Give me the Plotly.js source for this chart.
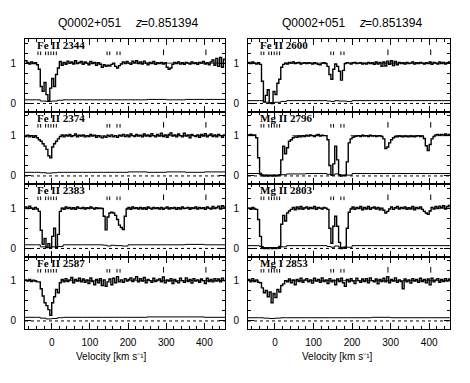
<!DOCTYPE html>
<html><head><meta charset="utf-8">
<script src="https://cdn.plot.ly/plotly-3.0.1.min.js"></script>
<style>html,body{margin:0;padding:0;background:#fff}#chart{width:470px;height:383px}</style>
</head><body><div id="chart"></div>
<script>
// ---------- DATA ----------
const quasar = "Q0002+051";
const redshiftSymbol = "z";
const redshiftValue = "=0.851394";
const xAxisTitle = "Velocity [km s⁻¹]";
const transitions = ["Fe II 2344","Fe II 2374","Fe II 2383","Fe II 2587","Fe II 2600","Mg II 2796","Mg II 2803","Mg I 2853"];

const velocity = [-70,-65,-60,-55,-50,-45,-40,-35,-30,-25,-20,-15,-10,-5,0,5,10,15,20,25,30,35,40,45,50,55,60,65,70,75,80,85,90,95,100,105,110,115,120,125,130,135,140,145,150,155,160,165,170,175,180,185,190,195,200,205,210,215,220,225,230,235,240,245,250,255,260,265,270,275,280,285,290,295,300,305,310,315,320,325,330,335,340,345,350,355,360,365,370,375,380,385,390,395,400,405,410,415,420,425,430,435,440,445,450,455];

const fluxFe2344 = [1.06,1.02,0.98,1.03,0.99,1.01,0.96,0.85,0.42,0.30, 0.52,0.22,0.07,0.38,0.62,0.42,0.72,0.88,1.04,0.95, 1.02,0.97,1.05,1.00,1.03,0.98,1.06,0.99,1.02,1.04, 0.97,1.03,1.00,0.96,1.04,0.99,1.02,0.95,1.01,0.97, 0.90,0.96,0.92,0.95,0.93,0.97,1.00,0.92,0.88,0.94, 0.98,1.03,0.99,1.04,1.00,0.97,1.05,1.01,1.06,0.99, 1.03,0.98,1.05,1.00,0.96,1.02,0.99,1.04,0.97,1.01, 0.99,1.02,0.98,1.01,0.90,0.85,0.88,0.97,1.02,0.99, 1.03,0.98,1.01,0.97,1.02,1.00,0.98,1.03,0.99,1.01, 0.97,1.02,1.00,1.04,0.98,1.01,0.96,1.03,1.08,0.95, 1.12,0.92,1.14,0.90,1.10,1.05];
const fluxFe2374 = [0.98,1.01,0.97,1.00,0.96,0.99,0.95,0.90,0.86,0.80, 0.74,0.66,0.50,0.45,0.72,0.80,0.86,0.92,0.98,1.02, 0.97,1.02,0.99,1.03,0.98,1.00,1.04,0.97,1.01,0.99, 1.02,0.97,1.00,0.98,1.03,0.99,1.01,0.96,1.00,0.97, 0.95,0.99,0.96,1.01,0.98,1.02,0.97,1.00,0.96,1.01, 0.99,1.03,0.98,1.02,0.97,1.04,1.00,0.98,1.03,0.99, 1.01,0.97,1.04,0.99,1.02,0.98,1.05,1.00,0.97,1.03, 0.99,1.06,0.98,1.02,0.96,1.03,1.07,0.99,1.02,0.97, 1.04,1.00,0.97,1.06,0.99,1.02,0.95,1.03,1.00,0.98, 1.02,0.96,1.03,0.99,1.05,0.97,1.01,1.04,0.98,1.02, 0.97,1.03,1.00,0.96,1.02,0.99];
const fluxFe2383 = [1.03,0.99,1.05,1.00,0.97,1.02,0.98,0.92,0.45,0.10, 0.25,0.02,0.12,0.02,0.30,0.50,0.03,0.35,0.92,1.00, 0.97,1.03,0.99,1.02,0.98,1.01,0.97,1.03,1.00,0.99, 1.02,0.98,1.01,0.99,1.03,1.00,0.98,1.01,0.99,1.00, 0.99,0.80,0.46,0.78,0.88,0.90,0.88,0.82,0.72,0.58, 0.52,0.47,0.80,0.98,1.02,0.97,1.03,0.99,1.01,0.98, 1.02,0.98,1.01,0.97,1.03,1.00,0.98,1.02,0.99,1.01, 0.98,1.02,0.97,1.00,1.03,0.98,1.01,0.99,1.02,0.97, 1.01,0.98,1.03,0.99,1.00,1.02,0.97,1.01,0.99,1.03, 0.98,1.02,0.99,1.01,0.97,1.03,1.00,0.98,1.04,0.99, 1.02,1.05,0.98,1.06,1.03,1.05];
const fluxFe2587 = [1.02,0.99,1.03,0.98,1.01,0.99,0.97,0.97,0.80,0.62, 0.45,0.38,0.28,0.14,0.45,0.60,0.78,0.70,0.95,1.03, 0.97,1.05,0.98,1.02,1.08,0.95,1.03,0.99,1.06,0.97, 1.04,0.96,1.02,0.93,1.07,0.98,0.90,1.03,0.95,1.05, 0.88,1.02,0.86,0.97,1.04,0.90,1.06,0.95,1.10,0.97, 1.02,0.96,1.05,0.99,1.03,1.07,0.98,1.04,1.10,0.97, 1.05,0.99,1.08,0.95,1.03,1.00,0.96,1.06,0.98,1.02, 1.04,0.97,1.09,0.95,1.02,0.99,1.05,0.93,1.03,0.98, 0.95,1.06,1.00,0.96,1.07,0.98,1.03,0.94,1.05,0.99, 1.02,0.96,1.04,1.00,0.93,1.06,0.98,1.03,0.97,1.05, 0.99,1.04,0.97,1.06,1.00,1.03];
const fluxFe2600 = [1.02,0.99,1.03,1.00,0.98,1.01,0.97,0.55,0.04,0.20, 0.34,0.01,0.00,0.30,0.22,0.50,0.60,0.90,0.97,1.00, 0.98,1.02,1.00,1.03,0.99,1.01,1.02,0.98,1.00,1.01, 0.99,1.01,1.00,0.98,1.01,0.99,0.97,0.96,1.00,1.01, 0.99,0.92,0.72,0.60,0.85,0.98,0.92,0.80,0.58,0.82, 0.99,1.01,1.00,0.98,1.01,1.02,0.99,1.00,1.01,0.98, 1.00,0.98,1.02,0.99,1.01,0.97,1.03,0.98,1.02,0.92, 1.03,0.93,1.05,0.97,1.06,0.94,1.04,0.96,1.02,0.99, 1.01,0.98,1.02,0.99,1.00,1.03,0.98,1.01,0.99,1.02, 1.00,0.98,1.01,0.99,1.03,0.97,1.02,1.00,0.98,1.03, 0.99,1.02,0.98,1.01,1.03,1.00];
const fluxMg2796 = [1.02,1.03,1.01,1.02,0.95,0.45,0.06,0.01,0.00,0.02, 0.00,0.01,0.00,0.02,0.00,0.01,0.03,0.40,0.74,0.55, 0.70,0.86,0.90,0.95,0.97,0.96,0.99,0.97,1.00,0.98, 1.01,0.99,1.02,1.00,0.98,1.01,1.03,0.99,1.01,1.00, 1.00,0.90,0.26,0.02,0.30,0.74,0.40,0.03,0.00,0.01, 0.02,0.35,0.82,0.92,0.96,0.98,0.99,1.00,0.98,1.01, 0.99,1.00,0.98,1.01,0.99,1.00,0.98,0.99,1.00,0.98, 0.92,0.68,0.72,0.82,0.90,0.95,0.98,0.97,0.99,0.98, 0.97,0.99,0.98,0.97,0.99,0.98,0.97,0.99,1.00,0.98, 0.99,0.93,0.75,0.63,0.78,0.92,0.98,1.02,1.03,1.01, 1.03,1.02,1.04,1.01,1.03,1.02];
const fluxMg2803 = [1.00,0.97,1.02,0.98,0.97,0.72,0.30,0.02,0.00,0.01, 0.00,0.02,0.00,0.01,0.00,0.02,0.05,0.60,0.82,0.68, 0.88,0.93,0.97,1.02,0.96,1.03,0.98,1.04,0.97,1.01, 1.03,0.98,1.02,0.99,1.04,0.97,1.02,1.00,0.98,1.02, 1.00,0.97,0.50,0.13,0.55,0.80,0.55,0.15,0.00,0.01, 0.03,0.50,0.90,0.98,1.03,0.97,1.02,0.99,1.04,0.96, 1.02,0.98,1.04,0.97,1.01,1.03,0.98,1.02,0.96,1.00, 0.95,0.88,0.92,0.98,1.03,0.97,1.01,1.04,0.98,1.02, 0.99,1.03,0.97,1.01,0.98,1.04,0.96,1.02,0.99,1.03, 0.97,0.92,0.88,0.85,0.93,1.02,0.98,1.04,0.99,1.05, 1.01,1.06,0.98,1.04,1.07,1.02];
const fluxMg2853 = [1.03,0.97,1.05,0.98,1.02,0.96,0.95,0.82,0.70,0.76, 0.60,0.72,0.45,0.68,0.58,0.78,0.72,0.88,0.92,1.00, 0.97,1.04,0.95,1.02,0.90,1.03,0.98,1.06,0.96,1.02, 1.05,0.97,1.02,0.94,1.06,0.99,1.03,0.96,1.07,0.98, 1.02,0.93,1.05,0.97,1.01,0.90,1.04,0.98,1.06,0.95, 0.86,1.03,0.97,1.05,0.99,0.93,1.06,1.00,0.96,1.04, 0.98,1.05,0.95,1.07,1.00,0.97,1.04,0.92,1.03,0.98, 1.06,0.97,1.10,0.95,1.03,0.99,1.07,0.96,1.02,0.98, 0.80,1.04,0.97,1.02,0.94,1.05,0.99,1.03,0.96,1.06, 0.98,1.03,0.95,1.04,0.90,1.06,0.97,1.02,1.05,0.96, 1.03,0.98,1.05,0.99,1.04,1.01];

const errVelocity = [-70,-40,-30,-15,0,15,30,80,135,145,155,165,185,200,250,300,350,400,455];
const errFe2344 = [0.09,0.09,0.06,0.05,0.06,0.08,0.09,0.09,0.09,0.09,0.09,0.09,0.09,0.09,0.10,0.09,0.10,0.10,0.10];
const errFe2374 = [0.09,0.09,0.08,0.07,0.08,0.09,0.09,0.09,0.09,0.09,0.09,0.09,0.09,0.10,0.09,0.10,0.09,0.10,0.10];
const errFe2383 = [0.09,0.09,0.04,0.03,0.04,0.05,0.09,0.09,0.08,0.06,0.08,0.07,0.06,0.09,0.09,0.09,0.10,0.09,0.10];
const errFe2587 = [0.09,0.09,0.07,0.05,0.06,0.08,0.09,0.09,0.09,0.09,0.09,0.09,0.09,0.09,0.10,0.10,0.10,0.09,0.10];
const errFe2600 = [0.07,0.07,0.03,0.02,0.03,0.05,0.07,0.07,0.06,0.05,0.07,0.06,0.05,0.07,0.07,0.07,0.07,0.07,0.07];
const errMg2796 = [0.06,0.03,0.02,0.02,0.02,0.03,0.05,0.06,0.04,0.02,0.05,0.02,0.02,0.06,0.06,0.06,0.06,0.06,0.06];
const errMg2803 = [0.07,0.05,0.02,0.02,0.02,0.04,0.07,0.07,0.05,0.03,0.06,0.03,0.03,0.07,0.07,0.07,0.07,0.07,0.07];
const errMg2853 = [0.08,0.08,0.07,0.06,0.07,0.08,0.08,0.08,0.08,0.08,0.08,0.08,0.08,0.08,0.09,0.08,0.08,0.08,0.08];

// velocities of the fitted cloud components (tick marks)
const componentVelocities = [-36,-29,-16,-9,-2,5,12,145,152,171,179];
const strongComponentVelocities = [293,404];
// unabsorbed stretches where the model sits on the continuum
const continuumFe = [[-70,-38],[24,132],[195,455]];
const continuumMg = [[-70,-50],[45,135],[196,278],[312,383],[412,455]];
const continuumMgI = [[-70,-42],[25,455]];

const fluxes = [fluxFe2344,fluxFe2374,fluxFe2383,fluxFe2587,fluxFe2600,fluxMg2796,fluxMg2803,fluxMg2853];
const errors = [errFe2344,errFe2374,errFe2383,errFe2587,errFe2600,errMg2796,errMg2803,errMg2853];
const continua = [continuumFe,continuumFe,continuumFe,continuumFe,continuumFe,continuumMg,continuumMg,continuumMgI];

// ---------- LAYOUT ----------
const W = 470, H = 383;
const rowEdges = [39, 111.5, 184, 256.5, 329];
const colEdges = [[25, 225], [248, 450]];
const xRange = [-70, 454];
const yRange = [-0.2, 1.6];
const sans = 'Liberation Sans, Arial, sans-serif';

const traces = [];
const layout = {
  width: W, height: H, margin: {l:0, r:0, t:0, b:0},
  paper_bgcolor: '#fff', plot_bgcolor: '#fff', showlegend: false,
  font: {family: sans, color: '#000', size: 10},
  annotations: []
};

transitions.forEach((name, k) => {
  const col = Math.floor(k / 4), row = k % 4, n = k + 1;
  const xs = 'x' + n, ys = 'y' + n;
  const xk = n === 1 ? 'xaxis' : 'xaxis' + n;
  const yk = n === 1 ? 'yaxis' : 'yaxis' + n;
  layout[xk] = {
    domain: [colEdges[col][0] / W, colEdges[col][1] / W], range: xRange, anchor: ys,
    showgrid: false, zeroline: false, showline: true, linecolor: '#000', linewidth: 1,
    mirror: 'allticks', ticks: 'inside', ticklen: 6, tickwidth: 1, tickcolor: '#000',
    tick0: 0, dtick: 100,
    minor: {dtick: 20, ticks: 'inside', ticklen: 3, tickwidth: 1, tickcolor: '#000', showgrid: false},
    showticklabels: row === 3, ticklabelstandoff: 4,
    tickfont: {family: sans, size: 10, color: '#000'},
    fixedrange: true
  };
  layout[yk] = {
    domain: [1 - rowEdges[row + 1] / H, 1 - rowEdges[row] / H], range: yRange, anchor: xs,
    showgrid: false, zeroline: false, showline: true, linecolor: '#000', linewidth: 1,
    mirror: 'allticks', ticks: 'inside', ticklen: 6, tickwidth: 1, tickcolor: '#000',
    tick0: 0, dtick: 1,
    minor: {dtick: 0.25, ticks: 'inside', ticklen: 3, tickwidth: 1, tickcolor: '#000', showgrid: false},
    showticklabels: true, ticklabelstandoff: 6,
    tickfont: {family: sans, size: 10, color: '#000'},
    fixedrange: true
  };

  // zero level (dotted)
  traces.push({x: [xRange[0], xRange[1]], y: [0, 0], xaxis: xs, yaxis: ys, mode: 'lines',
    line: {color: '#000', width: 1, dash: 'dot'}, hoverinfo: 'skip'});
  // continuum model
  const cx = [], cy = [];
  continua[k].forEach(seg => { cx.push(seg[0], seg[1], null); cy.push(1, 1, null); });
  traces.push({x: cx, y: cy, xaxis: xs, yaxis: ys, mode: 'lines',
    line: {color: '#000', width: 0.8}, hoverinfo: 'skip'});
  // error spectrum
  traces.push({x: errVelocity, y: errors[k], xaxis: xs, yaxis: ys, mode: 'lines',
    line: {color: '#000', width: 1, shape: 'hv'}, hoverinfo: 'skip'});
  // flux
  traces.push({x: velocity, y: fluxes[k], xaxis: xs, yaxis: ys, mode: 'lines',
    line: {color: '#000', width: 1.4, shape: 'hv'}, hoverinfo: 'skip'});
  // component ticks
  const tx = [], ty = [];
  componentVelocities.forEach(v => { tx.push(v, v, null); ty.push(1.2, 1.29, null); });
  strongComponentVelocities.forEach(v => { tx.push(v, v, null); ty.push(1.2, 1.34, null); });
  traces.push({x: tx, y: ty, xaxis: xs, yaxis: ys, mode: 'lines',
    line: {color: '#000', width: 1}, hoverinfo: 'skip'});

  // transition label
  layout.annotations.push({text: name,
    xref: xs, yref: ys, x: -45, y: 1.45, xanchor: 'left', yanchor: 'middle', showarrow: false,
    font: {family: 'Liberation Serif, Times New Roman, serif', size: 11, weight: 'bold', color: '#000'}});
});

// column titles: [quasar centre, z right edge, value left edge]
[[89, 142.5, 139.5], [313.5, 366.5, 363.5]].forEach(pos => {
  layout.annotations.push({text: quasar, xref: 'paper', yref: 'paper', x: pos[0] / W, y: 1 - 23 / H,
    xanchor: 'center', yanchor: 'middle', showarrow: false,
    font: {family: sans, size: 12, color: '#000'}});
  layout.annotations.push({text: redshiftSymbol, xref: 'paper', yref: 'paper', x: pos[1] / W, y: 1 - 23 / H,
    xanchor: 'right', yanchor: 'middle', showarrow: false, borderpad: 0,
    font: {family: sans, size: 12, style: 'italic', color: '#000'}});
  layout.annotations.push({text: redshiftValue, xref: 'paper', yref: 'paper', x: pos[2] / W, y: 1 - 23 / H,
    xanchor: 'left', yanchor: 'middle', showarrow: false, borderpad: 0,
    font: {family: sans, size: 12, color: '#000'}});
});
// x-axis titles
[111, 337].forEach(px => {
  layout.annotations.push({text: xAxisTitle, xref: 'paper', yref: 'paper', x: px / W, y: 1 - 356 / H,
    xanchor: 'center', yanchor: 'middle', showarrow: false,
    font: {family: sans, size: 10, color: '#000'}});
});

Plotly.newPlot('chart', traces, layout, {staticPlot: true, displayModeBar: false});
</script>
</body></html>
